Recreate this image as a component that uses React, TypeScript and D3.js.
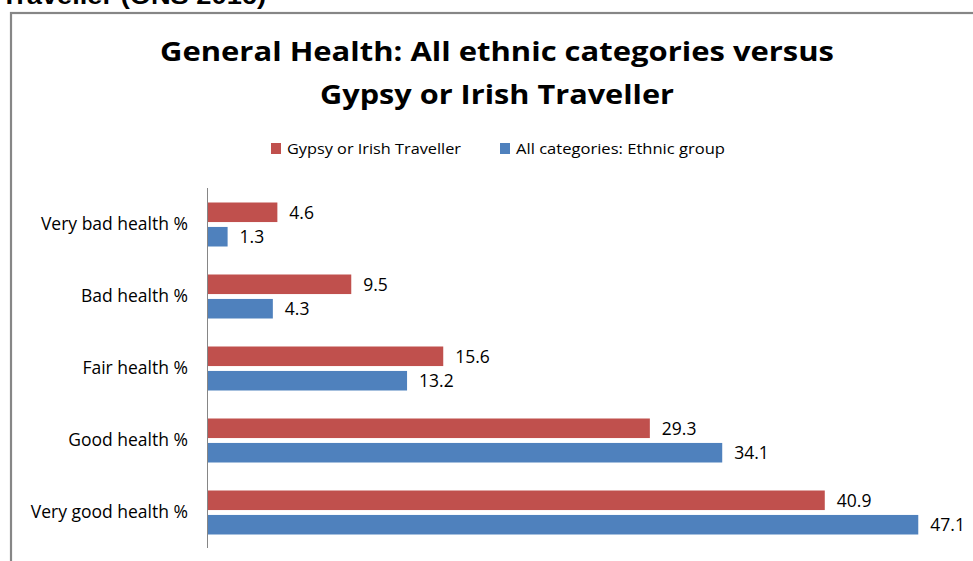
import React from "react";
import * as d3 from "d3";

const categories = [
  "Very bad health %",
  "Bad health %",
  "Fair health %",
  "Good health %",
  "Very good health %",
];
const seriesNames = ["Gypsy or Irish Traveller", "All categories:  Ethnic group"];
const gypsyValues = [4.6, 9.5, 15.6, 29.3, 40.9];
const allValues = [1.3, 4.3, 13.2, 34.1, 47.1];
const titleLines = ["General Health: All ethnic categories versus", "Gypsy or Irish Traveller"];
const pageHeading = "Traveller (ONS 2016)";

const colors = ["#C0504D", "#4F81BD"];
const W = 973;
const H = 561;
const FONT = "'Open Sans', 'Noto Sans', sans-serif";

export default function App() {
  const x = d3.scaleLinear().domain([0, 50]).range([208, 962]);
  const y = d3.scaleBand<string>().domain(categories).range([188, 548]).padding(0);
  const inner = d3
    .scaleBand<string>()
    .domain(seriesNames)
    .range([14.5, 58.5])
    .paddingInner(0.2);
  const seriesValues = [gypsyValues, allValues];

  return (
    <svg
      width={W}
      height={H}
      style={{ position: "absolute", left: 0, top: 0, background: "#fff" }}
    >
      <rect x={0} y={0} width={W} height={H} fill="#fff" />
      <text
        x={1}
        y={4}
        fontFamily="'Liberation Sans', Arial, sans-serif"
        fontWeight="bold"
        fontSize={23}
        textLength={265}
        lengthAdjust="spacingAndGlyphs"
        fill="#000"
      >
        {pageHeading}
      </text>
      <rect x={11} y={13} width={1000} height={600} fill="none" stroke="#868686" strokeWidth={2.2} />

      {titleLines.map((t, i) => (
        <text
          key={t}
          x={497}
          y={61 + i * 43}
          textAnchor="middle"
          fontFamily={FONT}
          fontWeight="bold"
          fontSize={27}
          textLength={i === 0 ? 674 : 354}
          lengthAdjust="spacingAndGlyphs"
          fill="#000"
        >
          {t}
        </text>
      ))}

      {/* legend */}
      {seriesNames.map((s, i) => {
        const lx = i === 0 ? 271 : 500;
        return (
          <g key={s}>
            <rect x={lx} y={143} width={10} height={11} fill={colors[i]} />
            <text
              x={lx + 16}
              y={154}
              fontFamily={FONT}
              fontSize={15}
              textLength={i === 0 ? 174 : 209}
              lengthAdjust="spacingAndGlyphs"
              fill="#000"
            >
              {s}
            </text>
          </g>
        );
      })}

      {/* bars */}
      {categories.map((c, ci) => (
        <g key={c}>
          {seriesNames.map((s, si) => {
            const v = seriesValues[si][ci];
            const by = (y(c) as number) + (inner(s) as number);
            const bh = inner.bandwidth();
            return (
              <g key={s}>
                <rect x={x(0)} y={by} width={x(v) - x(0)} height={bh} fill={colors[si]} />
                <text
                  x={x(v) + 12}
                  y={by + bh / 2}
                  dy="0.36em"
                  fontFamily={FONT}
                  fontSize={17.5}
                  fill="#000"
                >
                  {v.toFixed(1)}
                </text>
              </g>
            );
          })}
          <text
            x={188}
            y={(y(c) as number) + y.bandwidth() / 2}
            dy="0.36em"
            textAnchor="end"
            fontFamily={FONT}
            fontSize={17.5}
            fill="#000"
          >
            {c}
          </text>
        </g>
      ))}

      <line x1={207.5} x2={207.5} y1={188} y2={548} stroke="#868686" strokeWidth={1} />
    </svg>
  );
}
